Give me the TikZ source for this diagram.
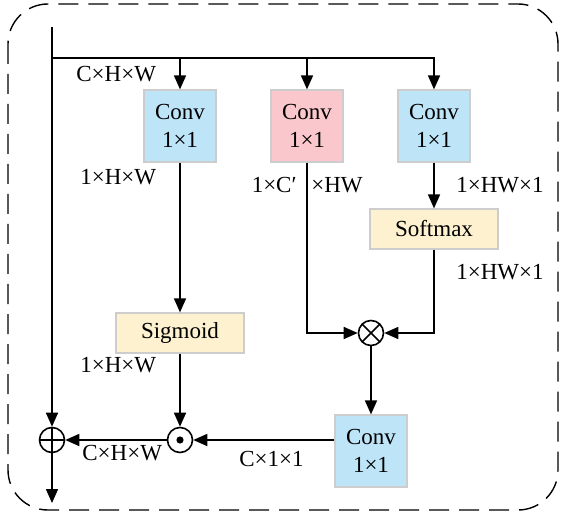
\documentclass[tikz,border=0pt]{standalone}
\usepackage{fontspec}
\setmainfont{Liberation Serif}
\usepackage{xcolor}
\usetikzlibrary{arrows.meta, positioning, calc}
\definecolor{convblue}{RGB}{190,228,248}
\definecolor{convpink}{RGB}{249,199,204}
\definecolor{actyellow}{RGB}{254,241,208}
\definecolor{boxedge}{RGB}{205,205,205}
\tikzset{
    baseblock/.style={rectangle, draw=boxedge, line width=0.6pt, text centered, align=center, font=\fontsize{11.5}{14}\selectfont, inner sep=2pt},
    convblock/.style={baseblock, fill=convblue, minimum width=36pt, minimum height=36pt},
    keyblock/.style={convblock, fill=convpink},
    actblock/.style={baseblock, fill=actyellow, minimum width=64pt, minimum height=20pt},
    opnode/.style={circle, draw=black, line width=0.8pt, fill=white, minimum size=12.5pt, inner sep=0pt},
    dimlabel/.style={font=\fontsize{11.5}{14}\selectfont, inner sep=0pt},
    arrow/.style={line width=0.8pt, -{Triangle[length=7pt, width=6pt]}, color=black},
    line/.style={line width=0.8pt, color=black}
}

\begin{document}
\begin{tikzpicture}[x=0.5pt, y=-0.5pt]
    \useasboundingbox (0,0) rectangle (562,513);
    \draw [line width=0.7pt, dash pattern=on 10pt off 5pt, rounded corners=20pt] (8,4) rectangle (558,510);

    % blocks
    \node (conva) [convblock] at (180,126) {Conv\\1×1};
    \node (convb) [keyblock] at (307,126) {Conv\\1×1};
    \node (convc) [convblock] at (434,126) {Conv\\1×1};
    \node (softmax) [actblock] at (434,229) {Softmax};
    \node (sigmoid) [actblock] at (180,333) {Sigmoid};
    \node (convd) [convblock] at (371,451) {Conv\\1×1};

    % operators
    \node (otimes) [opnode, path picture={\draw[line width=0.8pt] (path picture bounding box.north west) -- (path picture bounding box.south east) (path picture bounding box.north east) -- (path picture bounding box.south west);}] at (371,333) {};
    \node (odot) [opnode] at (180,440) {};
    \fill (odot) circle (1.8pt);
    \node (oplus) [opnode, path picture={\draw[line width=0.8pt] (path picture bounding box.north) -- (path picture bounding box.south) (path picture bounding box.west) -- (path picture bounding box.east);}] at (52,440) {};

    \coordinate (top) at (52,27);
    \coordinate (split) at (52,58);
    \coordinate (out) at (52,503);

    % labels
    \node [dimlabel, anchor=west] at (76,74) {C×H×W};
    \node [dimlabel, anchor=west] at (80,177) {1×H×W};
    \node [dimlabel, anchor=east] at (297,185) {1×C′};
    \node [dimlabel, anchor=west] at (311,185) {×HW};
    \node [dimlabel, anchor=west] at (456,185) {1×HW×1};
    \node [dimlabel, anchor=west] at (456,272) {1×HW×1};
    \node [dimlabel, anchor=west] at (80,365) {1×H×W};
    \node [dimlabel, anchor=west] at (82,453) {C×H×W};
    \node [dimlabel, anchor=west] at (239,459) {C×1×1};

    % connectors
    \draw [arrow] (top) -- (oplus);
    \draw [arrow] (oplus) -- (out);
    \draw [arrow] (split) -| (convc);
    \draw [arrow] (conva |- split) -- (conva);
    \draw [arrow] (convb |- split) -- (convb);
    \draw [arrow] (conva) -- (sigmoid);
    \draw [arrow] (sigmoid) -- (odot);
    \draw [arrow] (convc) -- (softmax);
    \draw [arrow] (convb) |- (otimes);
    \draw [arrow] (softmax) |- (otimes);
    \draw [arrow] (otimes) -- (convd);
    \draw [arrow] (convd.west |- odot) -- (odot);
    \draw [arrow] (odot) -- (oplus);
\end{tikzpicture}
\end{document}
